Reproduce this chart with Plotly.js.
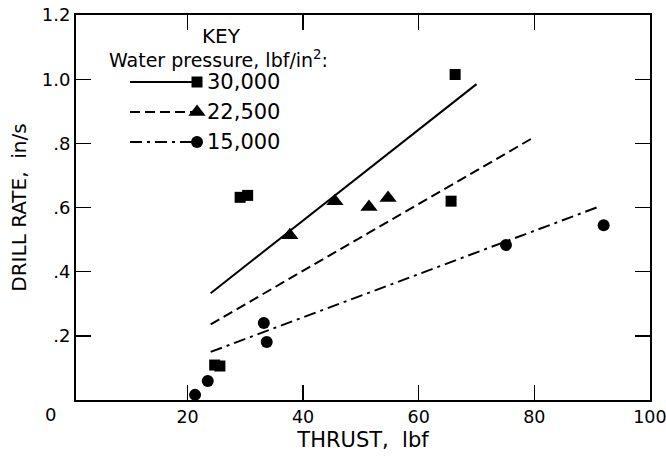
<!DOCTYPE html>
<html>
<head>
<meta charset="utf-8">
<script src="https://cdn.plot.ly/plotly-3.0.1.min.js"></script>
<style>html,body{margin:0;padding:0;background:#fff;}#chart{width:666px;height:456px;}</style>
</head>
<body>
<div id="chart"></div>
<script>
// ---- data ----
const thrust30 = [29.1, 30.4, 24.7, 25.6, 65.6, 66.3];
const rate30   = [0.632, 0.638, 0.109, 0.106, 0.62, 1.015];
const thrust22 = [37.7, 45.5, 51.4, 54.7];
const rate22   = [0.514, 0.62, 0.602, 0.63];
const thrust15 = [21.3, 23.5, 33.2, 33.7, 75.1, 92.0];
const rate15   = [0.016, 0.059, 0.24, 0.181, 0.483, 0.545];

const fitX30 = [24, 70],   fitY30 = [0.333, 0.985];
const fitX22 = [24, 80],   fitY22 = [0.236, 0.82];
const fitX15 = [24, 91.5], fitY15 = [0.15, 0.605];

const seriesNames = ['30,000', '22,500', '15,000'];
const xTickVals = [20, 40, 60, 80, 100];
const xTickText = ['20', '40', '60', '80', '100'];
const yTickVals = [0.2, 0.4, 0.6, 0.8, 1.0, 1.2];
const yTickText = ['.2', '.4', '.6', '.8', '1.0', '1.2'];

// ---- styling ----
const FONT = 'DejaVu Sans, sans-serif';
const dash30 = 'solid', dash22 = '10px,5px', dash15 = '12px,5px,3px,5px';
const sym = ['square', 'triangle-up', 'circle'];
const msize = [11, 15, 12];
const dashes = [dash30, dash22, dash15];

// plot area in page pixels
const L = 76, R = 650, T = 15, B = 400;
const px2paperX = px => (px - L) / (R - L);
const px2paperY = py => (B - py) / (B - T);

const traces = [];
const fits = [[fitX30, fitY30], [fitX22, fitY22], [fitX15, fitY15]];
fits.forEach((f, i) => traces.push({
  x: f[0], y: f[1], type: 'scatter', mode: 'lines',
  line: {color: '#000', width: 2, dash: dashes[i]},
  showlegend: false, hoverinfo: 'skip'
}));
const pts = [[thrust30, rate30], [thrust22, rate22], [thrust15, rate15]];
pts.forEach((p, i) => traces.push({
  x: p[0], y: p[1], type: 'scatter', mode: 'markers', name: seriesNames[i],
  marker: {color: '#000', symbol: sym[i], size: msize[i]},
  showlegend: false, cliponaxis: false
}));

// ---- hand-drawn key on an overlay axis measured in page pixels ----
const keyLineX0 = 130, keyLineX1 = 194, keyMarkX = 197, keyTextX = 205;
const keyRow0 = 82, keyRowGap = 30;
const annotations = [];
seriesNames.forEach((nm, i) => {
  const yy = keyRow0 + i * keyRowGap;
  traces.push({
    x: [keyLineX0, keyLineX1], y: [yy, yy], xaxis: 'x2', yaxis: 'y2',
    type: 'scatter', mode: 'lines', line: {color: '#000', width: 2, dash: dashes[i]},
    showlegend: false, hoverinfo: 'skip'
  });
  traces.push({
    x: [keyMarkX], y: [yy], xaxis: 'x2', yaxis: 'y2', type: 'scatter', mode: 'markers',
    marker: {color: '#000', symbol: sym[i], size: msize[i]},
    showlegend: false, hoverinfo: 'skip'
  });
  annotations.push({
    xref: 'x2', yref: 'y2', x: keyTextX, y: yy, text: nm, showarrow: false,
    xanchor: 'left', yanchor: 'middle', font: {family: FONT, size: 21, color: '#000'}
  });
});
annotations.push({
  xref: 'x2', yref: 'y2', x: 221, y: 36, text: 'KEY', showarrow: false,
  xanchor: 'center', yanchor: 'middle', font: {family: FONT, size: 20, color: '#000'}
});
annotations.push({
  xref: 'x2', yref: 'y2', x: 107, y: 59, text: 'Water pressure, lbf/in<sup>2</sup>:', showarrow: false,
  xanchor: 'left', yanchor: 'middle', font: {family: FONT, size: 19, color: '#000'}
});
// shared origin label (outside the plot, so in paper units)
annotations.push({
  xref: 'paper', yref: 'paper', x: px2paperX(50), y: px2paperY(415), text: '0', showarrow: false,
  xanchor: 'center', yanchor: 'middle', font: {family: FONT, size: 18, color: '#000'}
});

const axCommon = {
  showline: true, linewidth: 2, linecolor: '#000', mirror: 'ticks',
  ticks: 'inside', ticklen: 15, tickwidth: 1.5, tickcolor: '#000',
  showgrid: false, zeroline: false, ticklabeloverflow: 'allow',
  tickfont: {family: FONT, size: 18, color: '#000'}
};

const layout = {
  width: 666, height: 456,
  margin: {l: L, r: 666 - R, t: T, b: 456 - B},
  paper_bgcolor: '#fff', plot_bgcolor: '#fff',
  font: {family: FONT, color: '#000'},
  xaxis: Object.assign({}, axCommon, {
    range: [0.7, 100.02], tickvals: xTickVals, ticktext: xTickText,
    tickfont: {family: FONT, size: 17.5, color: '#000'},
    title: {text: 'THRUST,  lbf', font: {family: FONT, size: 21, color: '#000'}, standoff: 6}
  }),
  yaxis: Object.assign({}, axCommon, {
    range: [0, 1.2005], tickvals: yTickVals, ticktext: yTickText,
    title: {text: 'DRILL RATE,  in/s', font: {family: FONT, size: 20, color: '#000'}, standoff: 10}
  }),
  xaxis2: {overlaying: 'x', range: [L, R], visible: false, fixedrange: true},
  yaxis2: {overlaying: 'y', range: [B, T], visible: false, fixedrange: true},
  annotations: annotations,
  showlegend: false
};

Plotly.newPlot('chart', traces, layout, {displayModeBar: false, staticPlot: true});
</script>
</body>
</html>
